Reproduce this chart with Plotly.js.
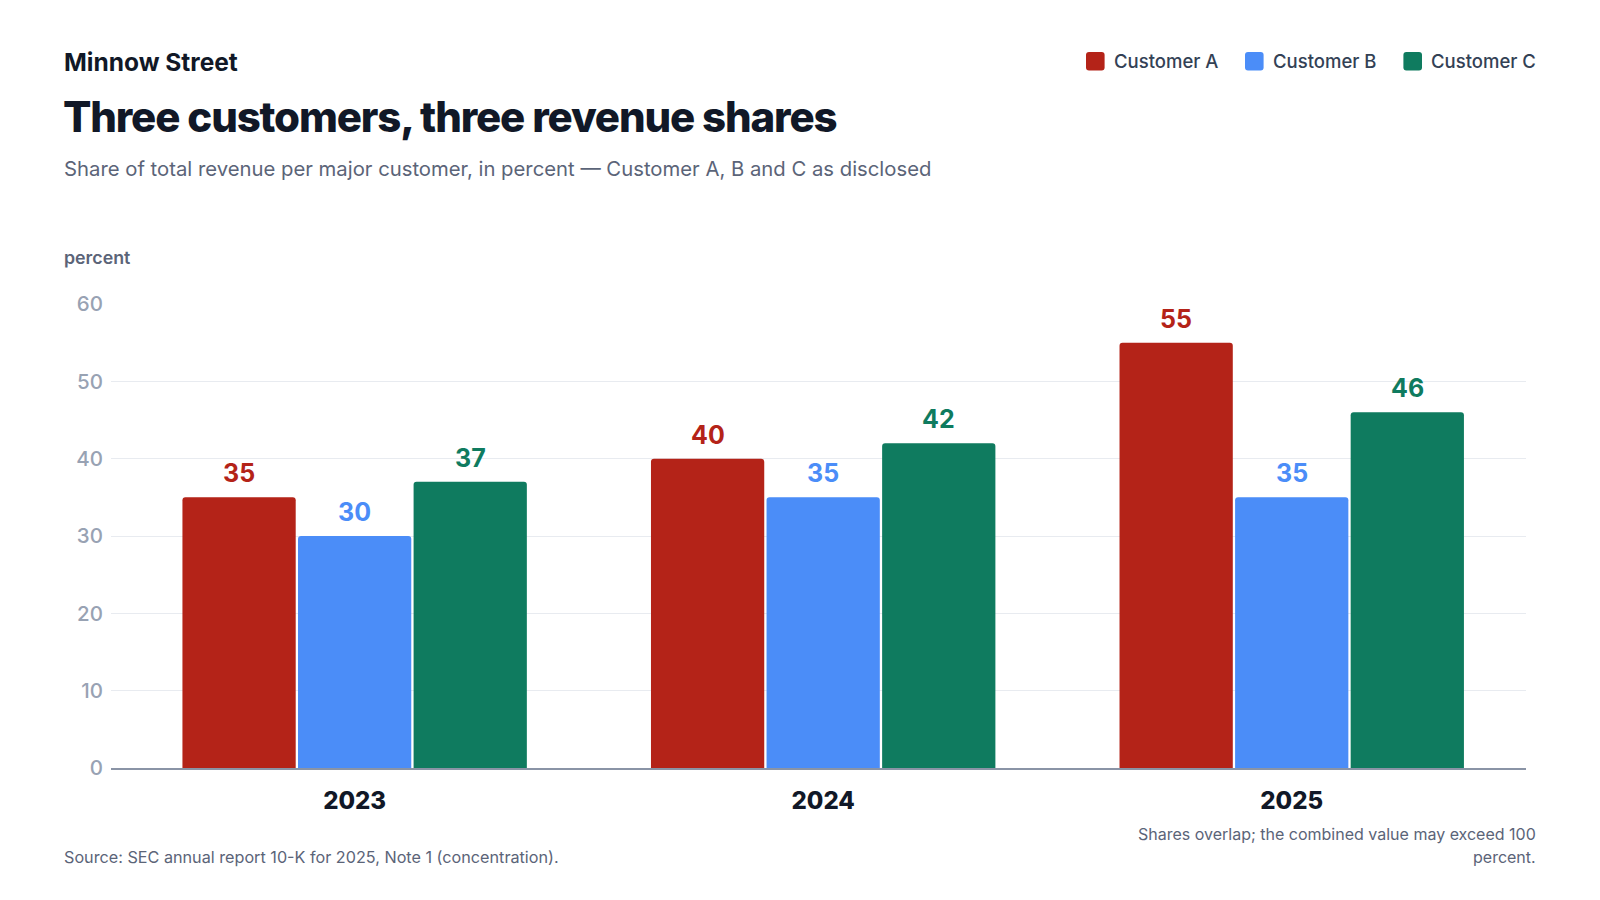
<!DOCTYPE html>
<html>
<head>
<meta charset="utf-8">
<script src="https://cdn.plot.ly/plotly-3.0.1.min.js"></script>
<style>
  html, body { margin: 0; padding: 0; background: #fff; }
  #chart { width: 1600px; height: 900px; }
  /* the headline is set tight */
  #chart .gtitle { letter-spacing: -1.15px; }
</style>
</head>
<body>
<div id="chart"></div>
<script>
// data
const years = ['2023', '2024', '2025'];
const seriesNames = ['Customer A', 'Customer B', 'Customer C'];
const customerA = [35, 40, 55];
const customerB = [30, 35, 35];
const customerC = [37, 42, 46];
const seriesColors = ['#b42318', '#4b8df8', '#0f7b5f'];

const FONT = 'Inter, "Noto Sans", sans-serif';

// plot box in pixels
const W = 1600, H = 900;
const box = { l: 111, r: 1526, t: 304, b: 768 };
const px = x => (x - box.l) / (box.r - box.l);
const py = y => (box.b - y) / (box.b - box.t);

const values = [customerA, customerB, customerC];
const traces = values.map((v, i) => ({
    type: 'bar',
    name: seriesNames[i],
    x: years,
    y: v,
    marker: { color: seriesColors[i], line: { width: 0 } },
    hoverinfo: 'skip',
}));

const grey = '#5b6478';
const annotations = [
    { text: 'Minnow Street', x: px(62), y: py(62), xanchor: 'left', yanchor: 'middle',
      font: { family: FONT, size: 24.5, weight: 700, color: '#111827' } },
    { text: 'Share of total revenue per major customer, in percent — Customer A, B and C as disclosed',
      x: px(62), y: py(168), xanchor: 'left', yanchor: 'middle',
      font: { family: FONT, size: 20.3, color: grey } },
    { text: 'percent', x: px(62), y: py(257), xanchor: 'left', yanchor: 'middle',
      font: { family: FONT, size: 17.8, weight: 600, color: grey } },
    { text: 'Source: SEC annual report 10-K for 2025, Note 1 (concentration).',
      x: px(62), y: py(857), xanchor: 'left', yanchor: 'middle',
      font: { family: FONT, size: 16.2, color: grey } },
    { text: 'Shares overlap; the combined value may exceed 100',
      x: px(1538), y: py(834), xanchor: 'right', yanchor: 'middle',
      font: { family: FONT, size: 16, color: grey } },
    { text: 'percent.',
      x: px(1538), y: py(857), xanchor: 'right', yanchor: 'middle',
      font: { family: FONT, size: 16, color: grey } },
];
annotations.forEach(a => { a.xref = 'paper'; a.yref = 'paper'; });

// value labels over each bar, placed on the axes
const slot = 115.5;
values.forEach((v, i) => {
    v.forEach((val, j) => {
        annotations.push({
            xref: 'x', yref: 'y', x: j, y: val,
            xshift: (i - 1) * slot, yshift: 7,
            xanchor: 'center', yanchor: 'bottom',
            text: String(val),
            font: { family: FONT, size: 25, weight: 700, color: seriesColors[i] },
        });
    });
});

// legend drawn by hand at top right
const shapes = [];
const legendCx = [1095.3, 1254.3, 1412.7];
const sq = 'M-6.3,-9.3H6.3Q9.3,-9.3 9.3,-6.3V6.3Q9.3,9.3 6.3,9.3H-6.3Q-9.3,9.3 -9.3,6.3V-6.3Q-9.3,-9.3 -6.3,-9.3Z';
seriesNames.forEach((name, i) => {
    shapes.push({
        type: 'path', xref: 'paper', yref: 'paper',
        xsizemode: 'pixel', ysizemode: 'pixel',
        xanchor: px(legendCx[i]), yanchor: py(61.3),
        path: sq,
        fillcolor: seriesColors[i], line: { width: 0 },
    });
    annotations.push({
        xref: 'paper', yref: 'paper',
        text: name, x: px(legendCx[i] + 16.5), y: py(61.3), xanchor: 'left', yanchor: 'middle',
        font: { family: FONT, size: 18.5, weight: 500, color: '#334155' },
    });
});
annotations.forEach(a => { a.showarrow = false; });

const layout = {
    width: W,
    height: H,
    paper_bgcolor: '#fff',
    plot_bgcolor: '#fff',
    margin: { l: box.l, r: W - box.r, t: box.t, b: H - box.b, pad: 0 },
    title: {
        text: 'Three customers, three revenue shares',
        xref: 'container', yref: 'container',
        x: 63 / W, xanchor: 'left',
        y: 1 - 117.5 / H, yanchor: 'middle',
        font: { family: FONT, size: 42, weight: 800, color: '#111827' },
    },
    showlegend: false,
    barmode: 'group',
    bargap: 0.26,
    bargroupgap: 0.02,
    barcornerradius: 3,
    xaxis: {
        type: 'category',
        range: [-0.52, 2.5],
        showgrid: false,
        zeroline: false,
        showline: true,
        linecolor: '#8a94a6',
        linewidth: 2,
        ticks: 'outside',
        ticklen: 10,
        tickcolor: 'rgba(0,0,0,0)',
        tickfont: { family: FONT, size: 24, weight: 800, color: '#111827' },
        fixedrange: true,
    },
    yaxis: {
        range: [0, 60],
        dtick: 10,
        showgrid: true,
        gridcolor: '#e8ebf0',
        gridwidth: 1,
        zeroline: false,
        showline: false,
        ticks: 'outside',
        ticklen: 3,
        tickcolor: 'rgba(0,0,0,0)',
        tickfont: { family: FONT, size: 20.5, weight: 500, color: '#98a2b3' },
        fixedrange: true,
    },
    annotations: annotations,
    shapes: shapes,
    font: { family: FONT },
};

Plotly.newPlot('chart', traces, layout, { displayModeBar: false, staticPlot: true });
</script>
</body>
</html>
